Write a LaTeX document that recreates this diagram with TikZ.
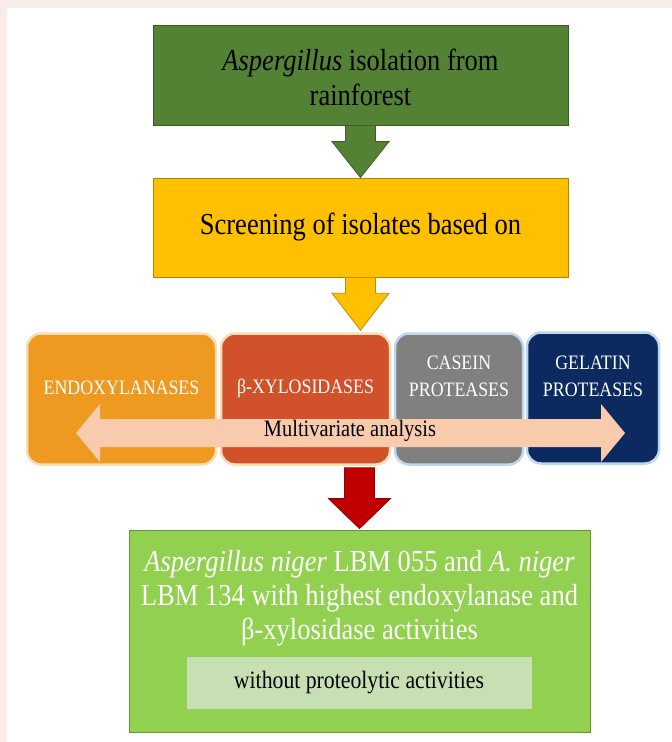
\documentclass[tikz,border=0pt]{standalone}
\usepackage{fontspec}
\setmainfont{Liberation Serif}[FakeStretch=0.87]
\usepackage{xcolor}
\usepackage{tikz}
\usetikzlibrary{positioning,calc}
\definecolor{pinkbg}{HTML}{F8ECE8}
\definecolor{isogreen}{HTML}{548235}
\definecolor{scrnyellow}{HTML}{FFC000}
\definecolor{endoorange}{HTML}{EE9A20}
\definecolor{xylored}{HTML}{D1512B}
\definecolor{casegray}{HTML}{808080}
\definecolor{gelnavy}{HTML}{0C2A60}
\definecolor{peach}{HTML}{F8CBAD}
\definecolor{redarrow}{HTML}{C00000}
\definecolor{resgreen}{HTML}{92D050}
\definecolor{innergreen}{HTML}{C6E0B4}
\definecolor{glowor}{HTML}{F9DDB5}
\definecolor{glowbl}{HTML}{BDD7EE}

\begin{document}
\begin{tikzpicture}[x=1pt, y=-1pt,
  stage/.style={draw=#1!70!black, fill=#1, line width=0.8pt, minimum width=415pt, minimum height=100pt, inner sep=0pt},
  enz/.style={rounded corners=14pt, line width=2.5pt, minimum height=131pt, inner sep=0pt},
  enztxt/.style={align=center, text=white, font=\fontsize{20.5}{27}\selectfont},
  blk/.style={fill=#1, draw=#1!75!black, line width=0.8pt},
  big/.style={font=\fontsize{30.5}{35}\selectfont, align=center}
]
\useasboundingbox (0,0) rectangle (672,742);
\fill[pinkbg] (0,0) rectangle (672,742);
\fill[white] (7,8) rectangle (672,742);

% stages
\node[stage=isogreen] (iso) at (360.5,75) {};
\node[big] (isotxt) at (360.5,77) {\textit{Aspergillus} isolation from\\rainforest};
\node[stage=scrnyellow, minimum height=99pt] (screen) at (360.5,227.5) {};
\node[big] (scrntxt) at (360.5,227) {Screening of isolates based on};

% enzymes
\node[enz, draw=glowor, fill=endoorange, minimum width=189pt] (endo) at (121.5,399) {};
\node[enz, draw=glowor, fill=xylored, minimum width=169pt] (xylo) at (305.5,399) {};
\node[enz, draw=glowbl, fill=casegray, minimum width=128pt] (casein) at (459,399) {};
\node[enz, draw=glowbl, fill=gelnavy, minimum width=132pt] (gelatin) at (593,398) {};
\node[enztxt] (endotxt) at (121.5,388) {ENDOXYLANASES};
\node[enztxt] (xylotxt) at (305.5,388) {β-XYLOSIDASES};
\node[enztxt] (casetxt) at (459,376) {CASEIN\\PROTEASES};
\node[enztxt] (geltxt) at (593,376) {GELATIN\\PROTEASES};

% multivariate double arrow
\coordinate (mleft) at (76,433);
\coordinate (mright) at (625,433);
\fill[peach] (mleft) -- ($(mleft)+(24,-29)$) -- ($(mleft)+(24,-14)$) -- ($(mright)+(-24,-14)$)
  -- ($(mright)+(-24,-29)$) -- (mright) -- ($(mright)+(-24,29)$) -- ($(mright)+(-24,14)$)
  -- ($(mleft)+(24,14)$) -- ($(mleft)+(24,29)$) -- cycle;
\node[font=\fontsize{23.5}{26}\selectfont] (multi) at (350,431) {Multivariate analysis};

% result
\node[stage=resgreen, minimum width=461pt, minimum height=202pt] (result) at (359.5,631) {};
\node[big, text=white, font=\fontsize{30.5}{34}\selectfont] (restxt) at (359.5,598)
  {\textit{Aspergillus niger} LBM 055 and \textit{A. niger}\\LBM 134 with highest endoxylanase and\\β-xylosidase activities};
\node[fill=innergreen, minimum width=345pt, minimum height=52pt, font=\fontsize{25}{28}\selectfont] (noprot) at (359,683) {without proteolytic activities};

% block arrows
\draw[blk=isogreen] ($(iso.south)+(-15,0)$) -- ($(screen.north)+(-15,-36)$) -- ($(screen.north)+(-28.5,-36)$)
  -- (screen.north) -- ($(screen.north)+(28.5,-36)$) -- ($(screen.north)+(15,-36)$) -- ($(iso.south)+(15,0)$) -- cycle;
\draw[blk=scrnyellow] ($(screen.south)+(-15,0)$) -- ($(screen.south |- xylo.north)+(-15,-39)$) -- ($(screen.south |- xylo.north)+(-28.5,-39)$)
  -- ($(screen.south |- xylo.north)+(0,-2)$) -- ($(screen.south |- xylo.north)+(28.5,-39)$) -- ($(screen.south |- xylo.north)+(15,-39)$) -- ($(screen.south)+(15,0)$) -- cycle;
\draw[blk=redarrow] ($(result.north |- xylo.south)+(-15,2)$) -- ($(result.north)+(-15,-31)$) -- ($(result.north)+(-31,-31)$)
  -- ($(result.north)+(0,-1)$) -- ($(result.north)+(31,-31)$) -- ($(result.north)+(15,-31)$) -- ($(result.north |- xylo.south)+(15,2)$) -- cycle;
\end{tikzpicture}
\end{document}
